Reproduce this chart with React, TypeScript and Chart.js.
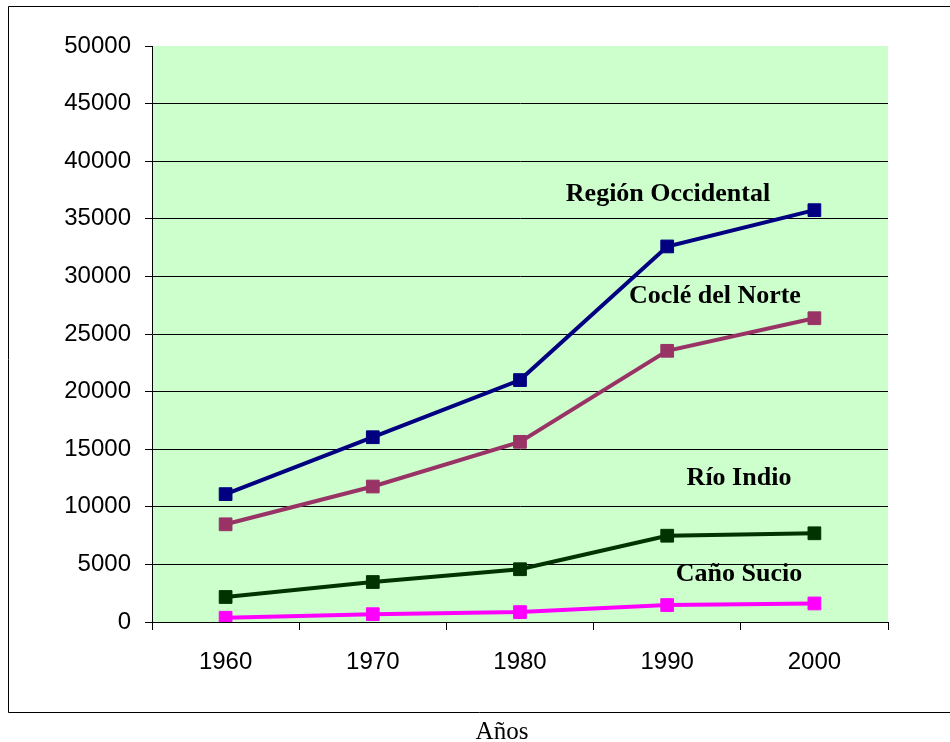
import React, { useEffect, useRef } from "react";
import { Chart, registerables } from "chart.js";

Chart.register(...registerables);

const years = ["1960", "1970", "1980", "1990", "2000"];
const regionOccidental = [11100, 16040, 21000, 32600, 35750];
const cocleDelNorte = [8480, 11760, 15640, 23540, 26370];
const rioIndio = [2170, 3470, 4580, 7490, 7700];
const canoSucio = [370, 680, 860, 1470, 1610];

const seriesNames = ["Región Occidental", "Coclé del Norte", "Río Indio", "Caño Sucio"];
const seriesColors = ["#000080", "#993366", "#003300", "#FF00FF"];
const yMin = 0;
const yMax = 50000;
const yStep = 5000;
const xTitle = "Años";

const labelPlugin = {
  id: "decor",
  beforeDraw(chart: any) {
    const { ctx, chartArea } = chart;
    ctx.save();
    ctx.fillStyle = "#CCFFCC";
    ctx.fillRect(chartArea.left, chartArea.top, chartArea.right - chartArea.left, chartArea.bottom - chartArea.top);
    ctx.strokeStyle = "#000";
    ctx.lineWidth = 1;
    ctx.beginPath();
    ctx.moveTo(8.5, 6.5);
    ctx.lineTo(952, 6.5);
    ctx.moveTo(8.5, 6.5);
    ctx.lineTo(8.5, 712.5);
    ctx.lineTo(952, 712.5);
    ctx.stroke();
    ctx.fillStyle = "#000";
    ctx.font = '25px "Liberation Serif", "Times New Roman", serif';
    ctx.textAlign = "center";
    ctx.textBaseline = "alphabetic";
    ctx.fillText(xTitle, 502, 739);
    ctx.restore();
  },
  afterDraw(chart: any) {
    const { ctx } = chart;
    const spots = [
      [668, 201],
      [715, 303],
      [739, 485],
      [739, 581],
    ];
    ctx.save();
    ctx.fillStyle = "#000";
    ctx.font = 'bold 26px "Liberation Serif", "Times New Roman", serif';
    ctx.textAlign = "center";
    ctx.textBaseline = "alphabetic";
    seriesNames.forEach((n, i) => ctx.fillText(n, spots[i][0], spots[i][1]));
    ctx.restore();
  },
};

export default function App() {
  const ref = useRef<HTMLCanvasElement | null>(null);
  useEffect(() => {
    if (!ref.current) return;
    const data = [regionOccidental, cocleDelNorte, rioIndio, canoSucio];
    const tickFont = { family: '"Liberation Sans", Arial, sans-serif', size: 24 };
    const chart = new Chart(ref.current, {
      type: "line",
      data: {
        labels: years,
        datasets: data.map((d, i) => ({
          label: seriesNames[i],
          data: d,
          borderColor: seriesColors[i],
          backgroundColor: seriesColors[i],
          borderWidth: 4,
          tension: 0,
          pointStyle: "rect",
          pointRadius: 9,
          pointHoverRadius: 9,
          pointBorderWidth: 1,
          pointBackgroundColor: seriesColors[i],
          pointBorderColor: seriesColors[i],
        })),
      },
      options: {
        animation: false,
        responsive: false,
        events: [],
        layout: { padding: { left: 20, right: 62, top: 46, bottom: 60 } },
        plugins: { legend: { display: false }, tooltip: { enabled: false }, title: { display: false } },
        scales: {
          x: {
            offset: true,
            grid: { display: true, drawOnChartArea: false, drawTicks: true, tickLength: 8, color: "#000", offset: true },
            border: { color: "#000", width: 1 },
            ticks: { color: "#000", font: tickFont, padding: 18, maxRotation: 0 },
            afterFit: (s: any) => { s.height = 60; },
          },
          y: {
            min: yMin,
            max: yMax,
            ticks: {
              stepSize: yStep,
              color: "#000",
              font: tickFont,
              padding: 14,
              callback: (v: any) => String(v),
            },
            grid: {
              color: (c: any) => (c.tick && c.tick.value === yMax ? "rgba(0,0,0,0)" : "#000"),
              tickColor: "#000",
              lineWidth: 1,
              tickLength: 7,
              drawTicks: true,
            },
            border: { color: "#000", width: 1 },
            afterFit: (s: any) => { s.width = 132; },
          },
        },
      },
      plugins: [labelPlugin],
    });
    return () => chart.destroy();
  }, []);
  return (
    <div style={{ position: "absolute", left: 0, top: 0, width: 950, height: 742 }}>
      <canvas ref={ref} width={950} height={742} style={{ display: "block" }} />
    </div>
  );
}
